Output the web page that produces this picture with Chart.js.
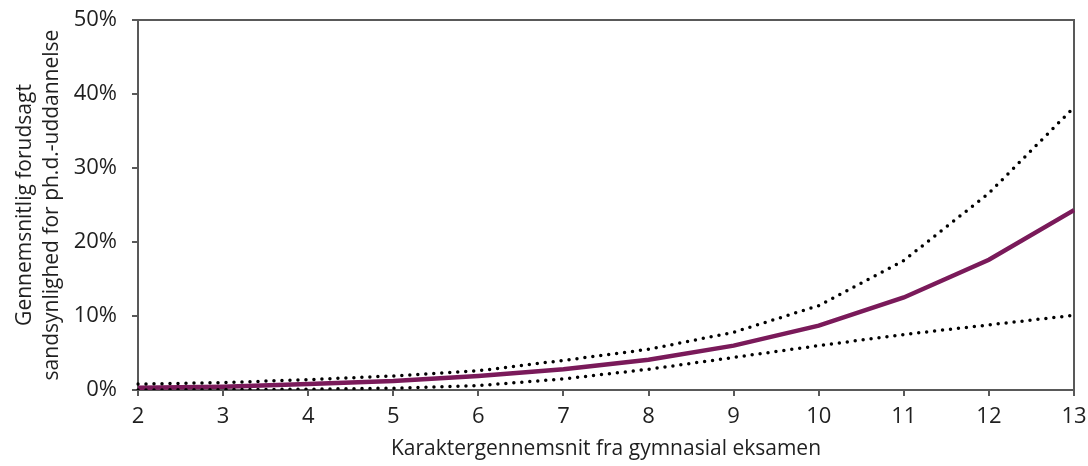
<!DOCTYPE html>
<html lang="da">
<head>
<meta charset="utf-8">
<title>Forudsagt sandsynlighed for ph.d.-uddannelse</title>
<script src="https://cdn.jsdelivr.net/npm/chart.js@4.4.1/dist/chart.umd.min.js"></script>
<style>
  html, body { margin: 0; padding: 0; background: #ffffff; }
  #wrap { width: 1088px; height: 466px; }
</style>
</head>
<body>
<div id="wrap"><canvas id="chart" width="1088" height="466"></canvas></div>
<script>
// Karaktergennemsnit (x) og forudsagt sandsynlighed i procent
const grades = [2, 3, 4, 5, 6, 7, 8, 9, 10, 11, 12, 13];
const predicted = [0.3, 0.45, 0.8, 1.2, 1.9, 2.8, 4.1, 6.0, 8.7, 12.5, 17.6, 24.3];
const upperBound = [0.8, 1.0, 1.4, 1.9, 2.6, 4.0, 5.5, 7.8, 11.4, 17.5, 26.6, 38.2];
const lowerBound = [0.0, 0.05, 0.1, 0.25, 0.6, 1.5, 2.8, 4.4, 6.0, 7.5, 8.8, 10.1];
const yTicks = [0, 10, 20, 30, 40, 50];

const xTitle = 'Karaktergennemsnit fra gymnasial eksamen';
const yTitle = ['Gennemsnitlig forudsagt', 'sandsynlighed for ph.d.-uddannelse'];

const FRAME = '#595959';
const TEXT = '#1f1f1f';
const FONT = "'Open Sans', 'Noto Sans', sans-serif";

// Closed frame around the plot area
const framePlugin = {
  id: 'frame',
  beforeDatasetsDraw(chart) {
    const { ctx, chartArea: a } = chart;
    ctx.save();
    ctx.strokeStyle = FRAME;
    ctx.lineWidth = 2;
    ctx.strokeRect(a.left, a.top, a.right - a.left, a.bottom - a.top);
    ctx.restore();
  }
};

const dotted = {
  borderColor: '#000000',
  borderWidth: 3.5,
  borderDash: [0, 8],
  borderCapStyle: 'round',
  pointRadius: 0,
  tension: 0,
  fill: false
};

new Chart(document.getElementById('chart'), {
  type: 'line',
  data: {
    labels: grades,
    datasets: [
      Object.assign({ label: 'Øvre grænse', data: upperBound }, dotted),
      Object.assign({ label: 'Nedre grænse', data: lowerBound }, dotted),
      {
        label: 'Forudsagt sandsynlighed',
        data: predicted,
        borderColor: '#7a1a5a',
        borderWidth: 4.5,
        borderCapStyle: 'butt',
        pointRadius: 0,
        tension: 0,
        fill: false
      }
    ]
  },
  options: {
    responsive: false,
    animation: false,
    devicePixelRatio: 1,
    layout: { padding: { left: 0, right: 14, top: 20, bottom: 3 } },
    plugins: {
      legend: { display: false },
      tooltip: { enabled: false }
    },
    scales: {
      x: {
        type: 'category',
        offset: false,
        border: { display: false },
        grid: {
          drawOnChartArea: false,
          drawTicks: true,
          tickLength: 6,
          color: FRAME,
          lineWidth: 2
        },
        ticks: {
          color: TEXT,
          font: { family: FONT, size: 22 },
          padding: 8,
          maxRotation: 0,
          autoSkip: false
        },
        title: {
          display: true,
          text: xTitle,
          color: TEXT,
          font: { family: FONT, size: 21, lineHeight: 1.3 },
          padding: { top: 0, bottom: 0 }
        },
        afterFit(scale) {
          scale.height = 73;
          scale.paddingLeft = 0;
          scale.paddingRight = 0;
        }
      },
      y: {
        min: 0,
        max: 50,
        border: { display: false },
        grid: {
          drawOnChartArea: false,
          drawTicks: true,
          tickLength: 6,
          color: FRAME,
          lineWidth: 2
        },
        afterBuildTicks(scale) {
          scale.ticks = yTicks.map(v => ({ value: v }));
        },
        ticks: {
          color: TEXT,
          font: { family: FONT, size: 22 },
          padding: 15,
          callback: v => v + '%'
        },
        title: {
          display: true,
          text: yTitle,
          color: TEXT,
          font: { family: FONT, size: 21, lineHeight: 1.3 },
          padding: { top: 11, bottom: 0 }
        },
        afterFit(scale) {
          scale.width = 138;
          scale.paddingTop = 0;
          scale.paddingBottom = 0;
        }
      }
    }
  },
  plugins: [framePlugin]
});
</script>
</body>
</html>
